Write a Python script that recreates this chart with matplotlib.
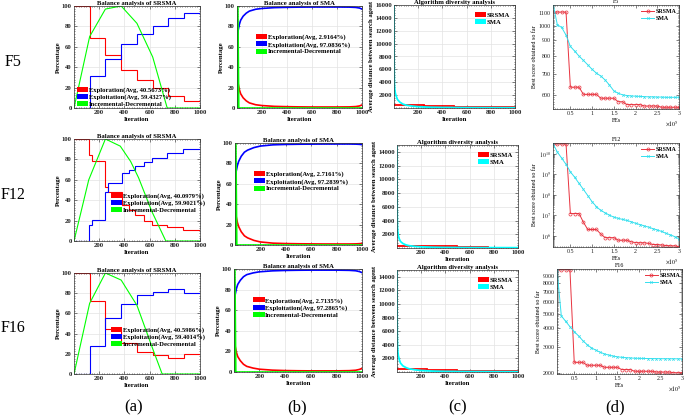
import numpy as np
import matplotlib
matplotlib.use('Agg')
import matplotlib.pyplot as plt
from matplotlib.patches import Patch
from matplotlib.lines import Line2D
from matplotlib.ticker import FixedLocator, MultipleLocator, NullFormatter, LogLocator

plt.rcParams['font.family'] = ['Liberation Serif', 'DejaVu Serif']
plt.rcParams['mathtext.fontset'] = 'stix'

functions = ['F5', 'F12', 'F16']
panel_letters = ['(a)', '(b)', '(c)', '(d)']

# ---------------- (a) SRSMA balance (step data) ----------------
srsma_edges_F5 = [1, 125, 250, 375, 500, 625, 750, 875, 1000]
srsma_explore_F5 = [100, 69, 52, 37, 27, 20, 12, 7]
srsma_exploit_F5 = [0, 31, 48, 63, 73, 80, 88, 93]
srsma_incdec_it_F5 = [1, 125, 250, 375, 500, 625, 740, 1000]
srsma_incdec_F5 = [0, 70, 97, 100, 83, 50, 0, 0]
srsma_avg_F5 = ['40.5673%', '59.4327%']

srsma_edges_F12 = [1, 118, 145, 245, 268, 380, 435, 487, 553, 618, 737, 868, 1000]
srsma_explore_F12 = [100, 84, 78, 53, 48, 35, 30, 25, 20, 16, 13.5, 11]
srsma_exploit_F12 = [0, 16, 21, 48, 57, 67, 70, 74, 77, 81, 86, 90]
srsma_incdec_it_F12 = [1, 118, 250, 368, 450, 513, 618, 729, 1000]
srsma_incdec_F12 = [0, 60, 100, 93, 78, 62, 29, 0, 0]
srsma_avg_F12 = ['40.0979%', '59.9021%']

srsma_edges_F16 = [1, 125, 250, 375, 500, 625, 750, 875, 1000]
srsma_explore_F16 = [100, 72, 45, 31, 22, 19, 16, 20]
srsma_exploit_F16 = [0, 28, 55, 69, 78, 81, 84, 80]
srsma_incdec_it_F16 = [1, 125, 250, 375, 500, 625, 700, 1000]
srsma_incdec_F16 = [0, 70, 100, 93, 68, 25, 0, 0]
srsma_avg_F16 = ['40.5986%', '59.4014%']

# ---------------- (b) SMA balance ----------------
sma_bal_it = [1, 3, 5, 10, 20, 30, 50, 75, 100, 150, 200, 300, 400, 500, 600, 700, 800, 900, 950, 980, 1000]
sma_explore_F5 = [100, 38, 30, 24, 18, 14, 10, 7, 5, 3.2, 2.4, 1.6, 1.3, 1.1, 1.0, 1.0, 1.0, 1.1, 1.4, 2.0, 3.0]
sma_exploit_F5 = [0, 62, 70, 76, 82, 86, 90, 93, 95, 96.8, 97.6, 98.4, 98.7, 98.9, 99.0, 99.0, 99.0, 98.9, 98.6, 98.0, 97.0]
sma_explore_F12 = [100, 42, 33, 28, 22, 18, 13, 9, 7, 4.5, 3, 1.8, 1.4, 1.2, 1.1, 1.0, 1.0, 1.0, 1.1, 1.3, 1.6]
sma_exploit_F12 = [0, 58, 67, 72, 78, 82, 87, 91, 93, 95.5, 97, 98.2, 98.6, 98.8, 98.9, 99, 99, 99, 98.9, 98.7, 98.4]
sma_explore_F16 = [100, 40, 30, 25, 19, 15, 11, 7.5, 5.5, 3.8, 2.7, 1.8, 1.4, 1.2, 1.1, 1.1, 1.1, 1.3, 1.7, 2.5, 3.5]
sma_exploit_F16 = [0, 60, 70, 75, 81, 85, 89, 92.5, 94.5, 96.2, 97.3, 98.2, 98.6, 98.8, 98.9, 98.9, 98.9, 98.7, 98.3, 97.5, 96.5]
sma_incdec_it = [1, 8, 15, 1000]
sma_incdec = [0, 100, 0, 0]
sma_avg_F5 = ['2.9164%', '97.0836%']
sma_avg_F12 = ['2.7161%', '97.2839%']
sma_avg_F16 = ['2.7135%', '97.2865%']

# ---------------- (c) diversity ----------------
div_it = [1, 2, 3, 5, 8, 12, 20, 30, 50, 75, 100, 150, 200, 300, 400, 600, 800, 1000]
div_sma_F5 = [16000, 8000, 5000, 3500, 2800, 2300, 1800, 1300, 900, 600, 450, 300, 200, 120, 85, 60, 50, 45]
div_sma_F12 = [14800, 7000, 4500, 3000, 2300, 1800, 1300, 950, 650, 450, 340, 230, 170, 110, 80, 60, 50, 45]
div_sma_F16 = [15000, 8500, 5500, 4000, 3000, 2400, 1800, 1300, 900, 650, 480, 320, 220, 130, 90, 65, 55, 50]
div_edges = [1, 250, 500, 750, 1000]
div_srsma_F5 = [450, 300, 180, 90]
div_srsma_F12 = [350, 220, 120, 70]
div_srsma_F16 = [450, 300, 180, 90]
div_ylim = {'F5': 16000, 'F12': 15000, 'F16': 15000}
div_yticks = {'F5': [2000, 4000, 6000, 8000, 10000, 12000, 14000, 16000],
              'F12': [2000, 4000, 6000, 8000, 10000, 12000, 14000],
              'F16': [2000, 4000, 6000, 8000, 10000, 12000, 14000]}

# ---------------- (d) convergence ----------------
fes = np.arange(1, 31) * 1e4
conv_srsma_F5 = [1110, 1110, 1110, 1110, 635, 635, 635, 602, 602, 602, 602, 585, 585, 585, 585,
                 570, 570, 558, 558, 558, 558, 552, 552, 552, 552, 547, 547, 547, 547, 547]
conv_sma_F5 = [1180, 1010, 990, 935, 860, 830, 800, 775, 750, 725, 705, 690, 670, 645, 618,
               607, 600, 597, 595, 594, 593, 592, 591, 591, 590, 590, 589, 589, 589, 589]
conv_srsma_F12 = [3e10, 3e10, 3e10, 3e10, 1.2e7, 1.2e7, 1.2e7, 4.5e6, 2e6, 2e6, 2e6, 1.2e6, 8e5, 8e5, 8e5,
                  6e5, 6e5, 6e5, 5e5, 4.6e5, 4.5e5, 4.5e5, 4.2e5, 3.7e5, 3.7e5, 3.5e5, 3.3e5, 3.2e5, 3.2e5, 2.9e5]
conv_sma_F12 = [3e10, 1.2e10, 6e9, 3e9, 1.3e9, 7e8, 3.5e8, 1.8e8, 9e7, 4.5e7, 2.6e7, 1.7e7, 1.3e7, 1e7, 8e6,
                7e6, 6.2e6, 5.5e6, 4.8e6, 4e6, 3.5e6, 3e6, 2.6e6, 2.2e6, 1.9e6, 1.6e6, 1.3e6, 1.1e6, 9e5, 7e5]
conv_srsma_F16 = [9900, 9900, 9900, 9900, 2360, 2360, 2360, 2255, 2255, 2255, 2255, 2185, 2185, 2185, 2185,
                  2110, 2110, 2110, 2055, 2055, 2055, 2055, 2055, 2030, 2030, 2030, 2030, 2010, 2010, 2010]
conv_sma_F16 = [9900, 4850, 4450, 4100, 3800, 3550, 3300, 3100, 2950, 2850, 2760, 2690, 2640, 2600, 2570,
                2550, 2535, 2525, 2515, 2510, 2505, 2503, 2500, 2498, 2496, 2495, 2494, 2493, 2492, 2490]
conv_ylim = {'F5': (540, 1170), 'F12': (2.8e5, 3.3e10), 'F16': (1970, 10000)}
conv_yticks = {'F5': [600, 700, 800, 900, 1000, 1100],
               'F12': [1e6, 1e7, 1e8, 1e9, 1e10],
               'F16': [2000, 3000, 4000, 5000, 6000, 7000, 8000, 9000]}
conv_ylabels = {'F5': ['600', '700', '800', '900', '1000', '1100'],
                'F12': [r'$10^{6}$', r'$10^{7}$', r'$10^{8}$', r'$10^{9}$', r'$10^{10}$'],
                'F16': ['2000', '3000', '4000', '5000', '6000', '7000', '8000', '9000']}
fe_ticks = [0.5e5, 1e5, 1.5e5, 2e5, 2.5e5, 3e5]
fe_ticklabels = ['0.5', '1', '1.5', '2', '2.5', '3']

data = {
    'F5': dict(ae=srsma_edges_F5, ar=srsma_explore_F5, ab=srsma_exploit_F5, agi=srsma_incdec_it_F5,
               ag=srsma_incdec_F5, aavg=srsma_avg_F5, br=sma_explore_F5, bb=sma_exploit_F5, bavg=sma_avg_F5,
               cs=div_sma_F5, cr=div_srsma_F5, dr=conv_srsma_F5, ds=conv_sma_F5),
    'F12': dict(ae=srsma_edges_F12, ar=srsma_explore_F12, ab=srsma_exploit_F12, agi=srsma_incdec_it_F12,
                ag=srsma_incdec_F12, aavg=srsma_avg_F12, br=sma_explore_F12, bb=sma_exploit_F12, bavg=sma_avg_F12,
                cs=div_sma_F12, cr=div_srsma_F12, dr=conv_srsma_F12, ds=conv_sma_F12),
    'F16': dict(ae=srsma_edges_F16, ar=srsma_explore_F16, ab=srsma_exploit_F16, agi=srsma_incdec_it_F16,
                ag=srsma_incdec_F16, aavg=srsma_avg_F16, br=sma_explore_F16, bb=sma_exploit_F16, bavg=sma_avg_F16,
                cs=div_sma_F16, cr=div_srsma_F16, dr=conv_srsma_F16, ds=conv_sma_F16),
}

# ---------------- layout (pixel boxes) ----------------
W, H = 685, 415
fig = plt.figure(figsize=(6.85, 4.15), dpi=100)

boxes = {
    'a': [(74, 6, 200, 108), (74, 139, 200, 241), (74, 273, 200, 374)],
    'b': [(237, 6, 362, 108), (235, 143, 362, 245), (234, 269, 362, 372)],
    'c': [(394, 5, 515, 108), (397, 145, 518, 248), (397, 270, 518, 372)],
    'd': [(553, 5, 679, 109), (553, 143, 679, 247), (557, 269, 682, 374)],
}
a_leg = [('lower left', (0.02, 0.01)), ('upper left', (0.29, 0.475)), ('upper left', (0.29, 0.47))]


def add_ax(box):
    x0, y0, x1, y1 = box
    return fig.add_axes([x0 / W, 1 - y1 / H, (x1 - x0) / W, (y1 - y0) / H])


FS = 4.8
FSD = 4.3
RED, BLUE, GREEN, CYAN = '#ff0000', '#0000ff', '#00ff00', '#00ffff'


def base_style(ax, fs):
    ax.tick_params(which='both', direction='in', top=True, right=True, width=0.4,
                   colors='#222222', labelsize=fs, pad=1.5)
    ax.tick_params(which='major', length=2)
    ax.tick_params(which='minor', length=1)
    for s in ax.spines.values():
        s.set_linewidth(0.5)
        s.set_color('#333333')


def iter_axis(ax):
    ax.set_xlim(1, 1000)
    ax.set_xticks([200, 400, 600, 800, 1000], ['200', '400', '600', '800', '1000'], fontweight='bold')
    ax.xaxis.set_minor_locator(MultipleLocator(20))
    ax.set_xlabel('Iteration', fontsize=FS, fontweight='bold', labelpad=1.5)
    ax.grid(True, which='major', color='#e3e3e3', lw=0.5)
    ax.set_axisbelow(True)


def patch_legend(ax, handles, labels, loc, anchor):
    ax.legend(handles, labels, loc=loc, bbox_to_anchor=anchor, frameon=False,
              prop={'size': FS, 'weight': 'bold'}, handlelength=1.7, handleheight=0.8,
              labelspacing=0.15, handletextpad=0.1, borderpad=0, borderaxespad=0)


pct_ticks = [0, 20, 40, 60, 80, 100]
pct_labels = ['0', '20', '40', '60', '80', '100']

for r, fn in enumerate(functions):
    d = data[fn]
    # ---- (a)
    ax = add_ax(boxes['a'][r])
    base_style(ax, FS)
    ax.stairs(d['ar'], d['ae'], baseline=None, color=RED, lw=0.8)
    ax.stairs(d['ab'], d['ae'], baseline=None, color=BLUE, lw=0.8)
    ax.plot(d['agi'], d['ag'], color=GREEN, lw=0.8)
    iter_axis(ax)
    ax.set_ylim(0, 100)
    ax.set_yticks(pct_ticks, pct_labels, fontweight='bold')
    ax.yaxis.set_minor_locator(MultipleLocator(2.5))
    ax.set_ylabel('Percentage', fontsize=FS, fontweight='bold', labelpad=1)
    ax.set_title('Balance analysis of SRSMA', fontsize=FS, fontweight='bold', pad=1)
    hs = [Patch(facecolor=RED), Patch(facecolor=BLUE), Patch(facecolor=GREEN)]
    ls = ['Exploration(Avg, %s)' % d['aavg'][0], 'Exploitation(Avg, %s)' % d['aavg'][1], 'Incremental-Decremental']
    patch_legend(ax, hs, ls, a_leg[r][0], a_leg[r][1])

    # ---- (b)
    ax = add_ax(boxes['b'][r])
    base_style(ax, FS)
    ax.plot(sma_bal_it, d['br'], color=RED, lw=1.2)
    ax.plot(sma_bal_it, d['bb'], color=BLUE, lw=1.2)
    ax.plot(sma_incdec_it, sma_incdec, color=GREEN, lw=1.2)
    iter_axis(ax)
    ax.set_ylim(0, 100)
    ax.set_yticks(pct_ticks, pct_labels, fontweight='bold')
    ax.yaxis.set_minor_locator(MultipleLocator(2.5))
    ax.set_ylabel('Percentage', fontsize=FS, fontweight='bold', labelpad=1)
    ax.set_title('Balance analysis of SMA', fontsize=FS, fontweight='bold', pad=1)
    ls = ['Exploration(Avg, %s)' % d['bavg'][0], 'Exploitation(Avg, %s)' % d['bavg'][1], 'Incremental-Decremental']
    patch_legend(ax, hs, ls, 'upper left', (0.15, 0.725))

    # ---- (c)
    ax = add_ax(boxes['c'][r])
    base_style(ax, FS)
    ax.stairs(d['cr'], div_edges, baseline=None, color=RED, lw=1.3)
    ax.plot(div_it, d['cs'], color=CYAN, lw=1.3)
    iter_axis(ax)
    ax.set_ylim(0, div_ylim[fn])
    yt = div_yticks[fn]
    ax.set_yticks(yt, [str(v) for v in yt], fontweight='bold')
    ax.yaxis.set_minor_locator(MultipleLocator(400))
    ax.set_ylabel('Average distance between search agent', fontsize=FS, fontweight='bold', labelpad=1)
    ax.set_title('Algorithm diversity analysis', fontsize=FS, fontweight='bold', pad=1)
    patch_legend(ax, [Patch(facecolor=RED), Patch(facecolor=CYAN)], ['SRSMA', 'SMA'],
                 'upper left', (0.67, 0.93))

    # ---- (d)
    ax = add_ax(boxes['d'][r])
    base_style(ax, FSD)
    ax.set_yscale('log')
    ax.plot(fes, d['dr'], color='#e8333f', lw=0.7, marker='o', ms=2.2, mfc='none', mew=0.5)
    ax.plot(fes, d['ds'], color='#33dfee', lw=0.7, marker='x', ms=1.8, mew=0.5)
    ax.set_xlim(1e4, 3e5)
    ax.set_ylim(*conv_ylim[fn])
    ax.set_xticks(fe_ticks, fe_ticklabels)
    ax.xaxis.set_minor_locator(MultipleLocator(5000))
    ax.set_yticks(conv_yticks[fn], conv_ylabels[fn])
    if fn == 'F5':
        ax.yaxis.set_minor_locator(MultipleLocator(10))
    elif fn == 'F16':
        ax.yaxis.set_minor_locator(MultipleLocator(100))
    else:
        ax.yaxis.set_minor_locator(LogLocator(base=10, subs=np.arange(1, 10, 0.5)))
    ax.yaxis.set_minor_formatter(NullFormatter())
    ax.set_xlabel('FEs', fontsize=FSD, labelpad=1.5)
    ax.set_ylabel('Best score obtained so far', fontsize=FSD, labelpad=1.5)
    ax.set_title(fn, fontsize=FSD, pad=1.5)
    ax.text(1.0, -0.1, r'$\times10^{5}$', transform=ax.transAxes, ha='right', va='top', fontsize=FSD)
    lh = [Line2D([], [], color='#e8333f', lw=0.7, marker='o', ms=2.2, mfc='none', mew=0.5),
          Line2D([], [], color='#33dfee', lw=0.7, marker='x', ms=1.8, mew=0.5)]
    ax.legend(lh, ['SRSMA', 'SMA'], loc='upper left', bbox_to_anchor=(0.7, 0.96), frameon=False,
              prop={'size': FSD, 'weight': 'bold'}, handlelength=2.2, labelspacing=0.2,
              handletextpad=0.3, borderpad=0, borderaxespad=0)

# row labels and panel letters
row_y = [62, 195, 328]
for fn, y in zip(functions, row_y):
    fig.text(13 / W, 1 - y / H, fn, fontsize=11.5, ha='center', va='center')
col_x = [134, 297, 458, 615]
for lab, x in zip(panel_letters, col_x):
    fig.text(x / W, 1 - 407 / H, lab, fontsize=12, ha='center', va='center')

fig.savefig('out.png', dpi=100)
